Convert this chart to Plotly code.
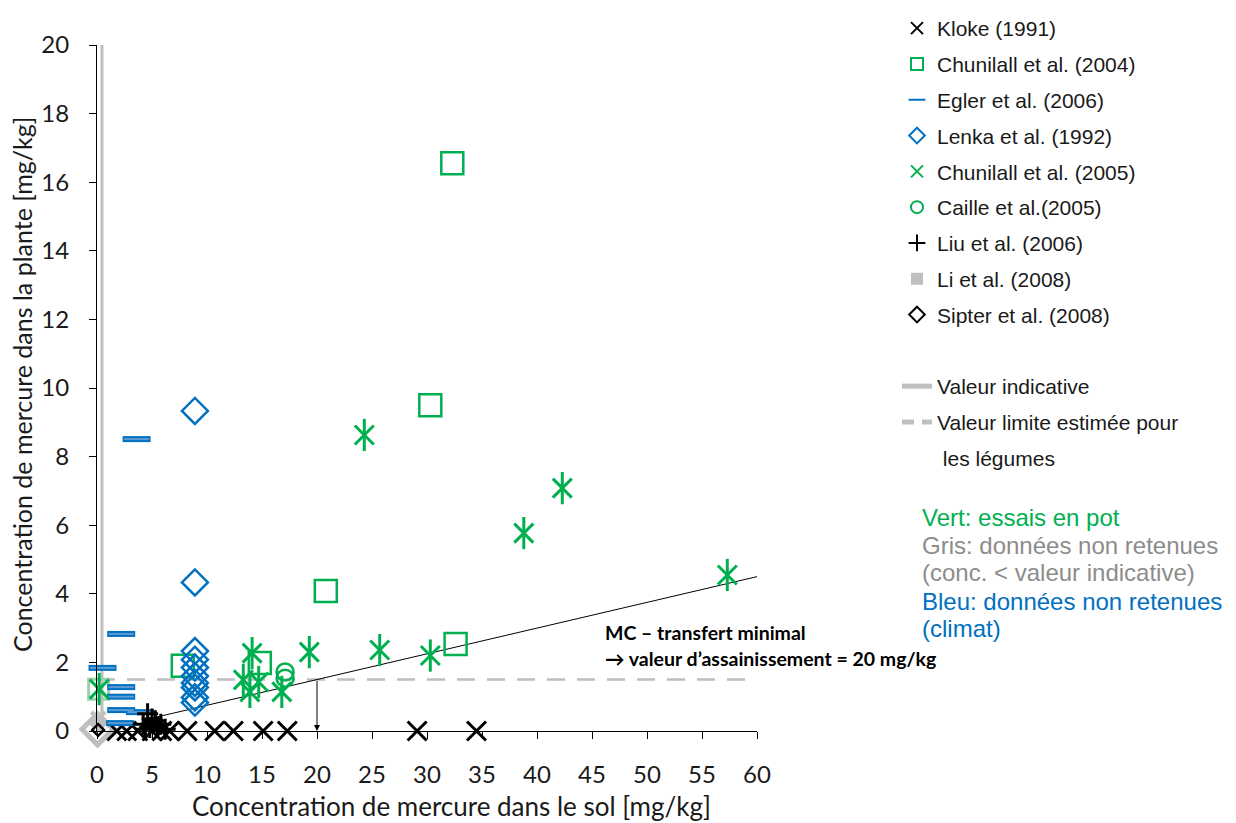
import plotly.graph_objects as go

# ---------------- data ----------------
kloke_x = [1.8, 2.7, 3.7, 5.0, 5.9, 6.6, 8.2, 10.7, 12.4, 15.1, 17.3, 29.1, 34.5]
kloke_y = [0, 0, 0, 0, 0, 0, 0, 0, 0, 0, 0, 0, 0]

chun04_x = [32.3, 30.3, 20.8, 32.6, 7.8, 14.8]
chun04_y = [16.55, 9.5, 4.08, 2.54, 1.9, 1.98]
chun04_grey_x = [0.15]
chun04_grey_y = [1.22]

egler_x = [3.6, 2.2, 0.5, 2.2, 2.2, 2.2, 3.9, 2.1]
egler_y = [8.51, 2.83, 1.84, 1.28, 1.0, 0.61, 0.55, 0.23]

lenka_x = [8.9, 8.9, 8.9, 8.9, 8.9, 8.9, 8.9, 8.9, 8.9, 8.9]
lenka_y = [9.33, 4.33, 2.33, 2.08, 1.85, 1.6, 1.4, 1.27, 0.98, 0.83]

chun05_x = [24.3, 42.3, 38.8, 57.3, 19.3, 25.7, 30.3, 14.1, 13.3, 13.9, 14.7, 16.8, 0.2]
chun05_y = [8.63, 7.08, 5.77, 4.55, 2.3, 2.36, 2.2, 2.27, 1.49, 1.14, 1.43, 1.14, 1.22]

caille_x = [17.1, 17.1]
caille_y = [1.72, 1.54]

liu_x = [4.6, 5.0, 5.3, 4.2, 5.8, 4.8, 5.5, 6.2, 4.4]
liu_y = [0.5, 0.35, 0.3, 0.2, 0.2, 0.1, 0.12, 0.05, 0.05]

li_x = [0.2, 0.35]
li_y = [0.08, 0.15]

sipter_x = [0.1]
sipter_y = [0.03]
sipter_grey_x = [0.05]
sipter_grey_y = [0.05]
grey_x_x = [0.1]
grey_x_y = [0.35]

valeur_indicative_x = [0.45, 0.45]
valeur_indicative_y = [0, 20]
valeur_limite_x = [0, 60]
valeur_limite_y = [1.5, 1.5]
mc_line_x = [5, 60]
mc_line_y = [0.375, 4.5]
assain_x = 20
assain_y = 1.5

x_ticks = list(range(0, 61, 5))
y_ticks = list(range(0, 21, 2))

GREEN = "#00B050"
BLUE = "#0070C0"
GREY = "#BFBFBF"

fig = go.Figure()

def add(name, x, y, symbol, size, color, lw, legend=True, group=None):
    fig.add_trace(go.Scatter(
        x=x, y=y, mode="markers", name=name,
        legendgroup=group or name, showlegend=legend,
        cliponaxis=False,
        marker=dict(symbol=symbol, size=size, color=color,
                    line=dict(width=lw, color=color)),
    ))

# Non-legend helper layers (drawn first)
fig.add_trace(go.Scatter(x=valeur_indicative_x, y=valeur_indicative_y, mode="lines",
                         line=dict(color=GREY, width=3), showlegend=False,
                         hoverinfo="skip", legendgroup="vi"))
fig.add_trace(go.Scatter(x=valeur_limite_x, y=valeur_limite_y, mode="lines",
                         line=dict(color=GREY, width=2.5, dash="18px,12px"), showlegend=False,
                         hoverinfo="skip", legendgroup="vl"))
fig.add_trace(go.Scatter(x=mc_line_x, y=mc_line_y, mode="lines",
                         line=dict(color="black", width=1), showlegend=False, hoverinfo="skip"))

add("grey_sip", sipter_grey_x, sipter_grey_y, "diamond-open", 24, GREY, 5, legend=False, group="Sipter et al. (2008)")
add("grey_x", grey_x_x, grey_x_y, "x-thin-open", 14, GREY, 4, legend=False, group="Sipter et al. (2008)")
add("grey_sq", chun04_grey_x, chun04_grey_y, "square-open", 20, "#9CCFAA", 3, legend=False, group="Chunilall et al. (2004)")

# Legend traces
add("Kloke (1991)", kloke_x, kloke_y, "x-thin-open", 19, "black", 3)
add("Chunilall et al. (2004)", chun04_x, chun04_y, "square-open", 22, GREEN, 2.5)
add("Egler et al. (2006)", egler_x, egler_y, "line-ew-open", 20, BLUE, 6)
add("egler_inner", egler_x, egler_y, "line-ew-open", 18, "#5B9BD5", 2, legend=False, group="Egler et al. (2006)")
add("Lenka et al. (1992)", lenka_x, lenka_y, "diamond-open", 20, BLUE, 2.5)
add("Chunilall et al. (2005)", chun05_x, chun05_y, "x-thin-open", 19, GREEN, 3)
add("chun05_v", chun05_x, chun05_y, "line-ns-open", 23, GREEN, 3, legend=False, group="Chunilall et al. (2005)")
add("Caille et al.(2005)", caille_x, caille_y, "circle-open", 17, GREEN, 2.5)
add("Liu et al. (2006)", liu_x, liu_y, "cross-thin-open", 15, "black", 3)
add("Li et al. (2008)", li_x, li_y, "square", 6, GREY, 0)
add("Sipter et al. (2008)", sipter_x, sipter_y, "diamond-open", 9, "black", 2.5)

# spacer legend entry
fig.add_trace(go.Scatter(x=[-100], y=[-100], mode="markers", name=" ", legendgroup="spacer",
                         marker=dict(color="rgba(0,0,0,0)", size=1), hoverinfo="skip"))
fig.add_trace(go.Scatter(x=[None], y=[None], mode="lines", name="Valeur indicative",
                         legendgroup="vi", line=dict(color=GREY, width=2.5)))
fig.add_trace(go.Scatter(x=[None], y=[None], mode="lines", name="Valeur limite estimée pour",
                         legendgroup="vl", line=dict(color=GREY, width=2.5, dash="12px,8px")))
fig.add_trace(go.Scatter(x=[-100], y=[-100], mode="markers", name="\u00a0les légumes",
                         legendgroup="vl2", marker=dict(color="rgba(0,0,0,0)", size=1),
                         hoverinfo="skip"))

AX_FONT = dict(family="Lato", size=24, color="#1a1a1a")

# The page body adds an 8px offset; all pixel positions below are compensated.
OFF = 8

fig.update_layout(
    width=1236, height=823,
    margin=dict(l=97 - OFF, r=1236 - 757 + OFF, t=45 - OFF, b=823 - 731 + OFF, autoexpand=False),
    paper_bgcolor="white", plot_bgcolor="white",
    showlegend=True,
    legend=dict(xref="container", yref="container", x=(897 - OFF) / 1236, xanchor="left",
                y=1 - (-3 - OFF) / 823, yanchor="top", maxheight=800, itemsizing="constant",
                font=dict(family="Liberation Sans", size=21, color="#1a1a1a"),
                tracegroupgap=5.5, bgcolor="rgba(0,0,0,0)", itemwidth=30),
    xaxis=dict(range=[0, 60], tickvals=x_ticks, showgrid=False, zeroline=False,
               showline=True, linecolor="black", linewidth=1.2, automargin=False,
               ticks="outside", ticklen=7, tickwidth=1.2, tickcolor="black",
               tickfont=AX_FONT, ticklabelstandoff=15),
    yaxis=dict(range=[0, 20], tickvals=y_ticks, showgrid=False, zeroline=False,
               showline=True, linecolor="black", linewidth=1.2, automargin=False,
               ticks="outside", ticklen=7, tickwidth=1.2, tickcolor="black",
               tickfont=AX_FONT, ticklabelstandoff=15),
)

def px_to_paper_y(py):
    return (731 - py) / 686

def px_to_paper_x(px):
    return (px - 97) / 660

ann = []
ann.append(dict(text="Concentration de mercure dans le sol [mg/kg]", xref="paper", yref="paper",
                x=px_to_paper_x(451), y=px_to_paper_y(806), xanchor="center", yanchor="middle",
                showarrow=False, font=dict(family="Lato", size=26, color="#1a1a1a")))
ann.append(dict(text="Concentration de mercure dans la plante [mg/kg]", xref="paper", yref="paper",
                x=px_to_paper_x(22), y=px_to_paper_y(385), xanchor="center", yanchor="middle",
                textangle=-90, showarrow=False, font=dict(family="Lato", size=25, color="#1a1a1a")))
# MC annotation
ann.append(dict(text="<b>MC – transfert minimal</b>", xref="paper", yref="paper",
                x=px_to_paper_x(603), y=px_to_paper_y(632), xanchor="left", yanchor="middle",
                showarrow=False, font=dict(family="Lato", size=19.5, color="black")))
ann.append(dict(text="<b>→ valeur d’assainissement = 20 mg/kg</b>", xref="paper", yref="paper",
                x=px_to_paper_x(603), y=px_to_paper_y(658), xanchor="left", yanchor="middle",
                showarrow=False, font=dict(family="Lato", size=19.5, color="black")))
# arrow
ann.append(dict(x=assain_x, y=0, ax=assain_x, ay=assain_y, xref="x", yref="y", axref="x", ayref="y",
                text="", showarrow=True, arrowhead=2, arrowsize=1.2, arrowwidth=1, arrowcolor="black"))
# colour notes
notes = [("Vert: essais en pot", GREEN, 517),
         ("Gris: données non retenues", "#8C8C8C", 545),
         ("(conc. < valeur indicative)", "#8C8C8C", 572),
         ("Bleu: données non retenues", BLUE, 601),
         ("(climat)", BLUE, 628)]
for t, c, py in notes:
    ann.append(dict(text=t, xref="paper", yref="paper", x=px_to_paper_x(920), y=px_to_paper_y(py),
                    xanchor="left", yanchor="middle", showarrow=False,
                    font=dict(family="Liberation Sans", size=24, color=c)))
fig.update_layout(annotations=ann)

fig.write_html("out.html")
